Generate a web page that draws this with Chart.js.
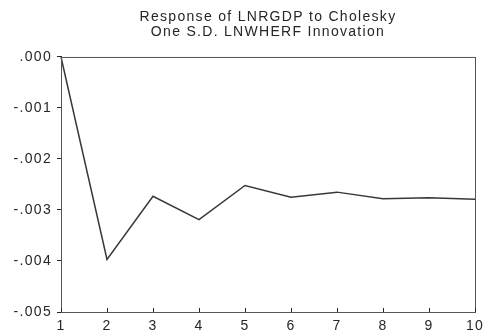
<!DOCTYPE html>
<html>
<head>
<meta charset="utf-8">
<script src="https://cdn.jsdelivr.net/npm/chart.js@4"></script>
<style>
  html, body { margin: 0; padding: 0; background: #fff; }
  #wrap { width: 486px; height: 336px; position: relative; }
</style>
</head>
<body>
<div id="wrap"><canvas id="irf"></canvas></div>
<script>
// impulse response, periods 1..10
const periods = ["1", "2", "3", "4", "5", "6", "7", "8", "9", "10"];
const response = [0.0, -0.00397, -0.00273, -0.00319, -0.00252, -0.00275, -0.00265, -0.00278, -0.00276, -0.00279];
const titleLines = ["Response of LNRGDP to Cholesky", "One S.D. LNWHERF Innovation"];

const FONT = "'Liberation Sans', Arial, sans-serif";
const INK = "#262626";
const SPACING = "1.3px";

// the old EViews output is set with wide letter spacing
const spacedText = {
  id: "spacedText",
  beforeLayout(chart) { chart.ctx.letterSpacing = SPACING; },
  beforeDraw(chart) { chart.ctx.letterSpacing = SPACING; },
};

// frame round the plot area + x tick marks pointing inwards
const frameBox = {
  id: "frameBox",
  afterDatasetsDraw(chart) {
    const { ctx, chartArea: a } = chart;
    const xs = chart.scales.x;
    ctx.save();
    ctx.strokeStyle = "#555";
    ctx.lineWidth = 1;
    ctx.strokeRect(a.left + 0.5, a.top + 0.5, a.right - a.left, a.bottom - a.top);
    ctx.strokeStyle = INK;
    ctx.beginPath();
    xs.ticks.forEach((t, i) => {
      const px = Math.round(xs.getPixelForTick(i)) + 0.5;
      ctx.moveTo(px, a.bottom);
      ctx.lineTo(px, a.bottom - 4);
    });
    ctx.stroke();
    ctx.restore();
  },
};

function fmtTick(v) {
  const r = Math.round(v * 1000) / 1000;
  if (r === 0) return ".000";
  return r.toFixed(3).replace("0.", ".");
}

new Chart(document.getElementById("irf"), {
  type: "line",
  data: {
    labels: periods,
    datasets: [{
      data: response,
      borderColor: "#383838",
      borderWidth: 1.5,
      pointRadius: 0,
      tension: 0,
      fill: false,
    }],
  },
  options: {
    responsive: true,
    maintainAspectRatio: false,
    animation: false,
    layout: { padding: 0 },
    plugins: {
      legend: { display: false },
      tooltip: { enabled: false },
      title: {
        display: true,
        fullSize: false, // centre over the plot area, not the canvas
        text: titleLines,
        color: INK,
        font: { family: FONT, size: 14, weight: "normal", lineHeight: 1.07 },
        padding: { top: 10, bottom: 17 },
      },
    },
    scales: {
      x: {
        offset: false,
        grid: { drawOnChartArea: false, drawTicks: false, color: INK },
        border: { color: INK, width: 1 },
        ticks: { color: INK, font: { family: FONT, size: 14 }, padding: 6, maxRotation: 0, autoSkip: false },
        afterFit(s) { s.height = 24; s.paddingLeft = 0; s.paddingRight = 11; },
      },
      y: {
        min: -0.005,
        max: 0,
        grid: { drawOnChartArea: false, tickLength: 4, color: INK, tickColor: INK },
        border: { color: INK, width: 1 },
        ticks: { stepSize: 0.001, color: INK, font: { family: FONT, size: 14 }, padding: 5, callback: fmtTick },
        afterFit(s) { s.width = 61; },
      },
    },
  },
  plugins: [spacedText, frameBox],
});
</script>
</body>
</html>
